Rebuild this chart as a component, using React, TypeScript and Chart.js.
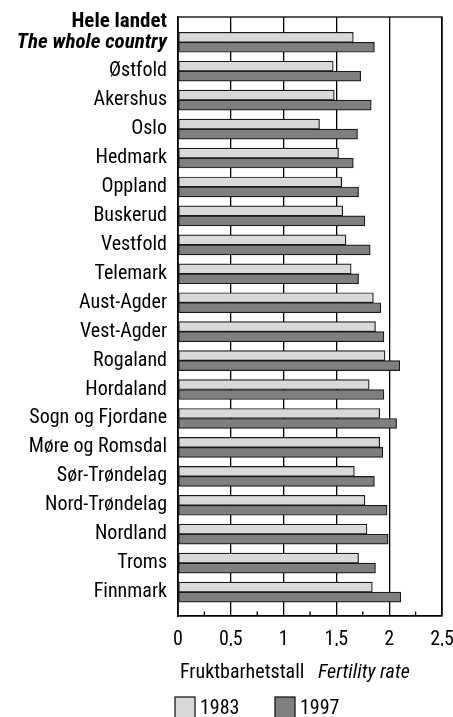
import React, { useEffect, useRef } from "react";
import { Chart, registerables } from "chart.js";

Chart.register(...registerables);

const headline = "Hele landet";
const regions = [
  "The whole country",
  "Østfold",
  "Akershus",
  "Oslo",
  "Hedmark",
  "Oppland",
  "Buskerud",
  "Vestfold",
  "Telemark",
  "Aust-Agder",
  "Vest-Agder",
  "Rogaland",
  "Hordaland",
  "Sogn og Fjordane",
  "Møre og Romsdal",
  "Sør-Trøndelag",
  "Nord-Trøndelag",
  "Nordland",
  "Troms",
  "Finnmark",
];
const values1983 = [1.66, 1.47, 1.48, 1.34, 1.52, 1.55, 1.56, 1.59, 1.64, 1.85, 1.87, 1.96, 1.81, 1.91, 1.91, 1.67, 1.77, 1.79, 1.71, 1.84];
const values1997 = [1.86, 1.73, 1.83, 1.70, 1.66, 1.71, 1.77, 1.82, 1.71, 1.92, 1.95, 2.10, 1.95, 2.07, 1.94, 1.86, 1.98, 1.99, 1.87, 2.11];
const seriesLabels = ["1983", "1997"];
const xTickValues = [0, 0.5, 1, 1.5, 2, 2.5];
const xTickLabels = ["0", "0,5", "1", "1,5", "2", "2,5"];
const minorTickValues = [0.25, 0.75, 1.25, 1.75, 2.25];
const axisTitleNo = "Fruktbarhetstall";
const axisTitleEn = "Fertility rate";

const FONT = "'Roboto Condensed', 'Liberation Sans', Arial, sans-serif";
const FSIZE = 20;
const FILL_1983 = "#d9d9d9";
const FILL_1997 = "#7f7f7f";
const EDGE = "#1a1a1a";

const decorPlugin = {
  id: "decor",
  afterDraw(chart: any) {
    const { ctx, chartArea, scales } = chart;
    const xs = scales.x;
    const ys = scales.y;
    ctx.save();
    // frame
    ctx.strokeStyle = "#000";
    ctx.lineWidth = 1.3;
    ctx.strokeRect(chartArea.left, chartArea.top, chartArea.right - chartArea.left, chartArea.bottom - chartArea.top);
    // minor ticks
    minorTickValues.forEach((v) => {
      const px = xs.getPixelForValue(v);
      ctx.beginPath();
      ctx.moveTo(px, chartArea.bottom);
      ctx.lineTo(px, chartArea.bottom - 4.5);
      ctx.stroke();
    });
    // headline above first category label
    ctx.fillStyle = "#000";
    ctx.textAlign = "right";
    ctx.textBaseline = "middle";
    ctx.font = `bold 21px ${FONT}`;
    ctx.fillText(headline, chartArea.left - 11, ys.getPixelForValue(0) - 21);
    // axis title
    ctx.textAlign = "left";
    ctx.font = `${FSIZE}px ${FONT}`;
    const ty = 673;
    ctx.fillText(axisTitleNo, 180, ty);
    ctx.font = `italic ${FSIZE}px ${FONT}`;
    ctx.fillText(axisTitleEn, 318, ty);
    // legend
    const ds = chart.data.datasets;
    const legendX = [175, 275];
    ds.forEach((d: any, i: number) => {
      const bx = legendX[i];
      ctx.fillStyle = d.backgroundColor;
      ctx.fillRect(bx, 697, 20, 24);
      ctx.strokeStyle = EDGE;
      ctx.lineWidth = 1.3;
      ctx.strokeRect(bx, 697, 20, 24);
      ctx.fillStyle = "#000";
      ctx.font = `${FSIZE}px ${FONT}`;
      ctx.textAlign = "left";
      ctx.fillText(d.label, bx + 25, 708.5);
    });
    ctx.restore();
  },
};

export default function App() {
  const canvasRef = useRef<HTMLCanvasElement | null>(null);

  useEffect(() => {
    if (!canvasRef.current) return;
    const chart = new Chart(canvasRef.current, {
      type: "bar",
      data: {
        labels: regions,
        datasets: [
          {
            label: seriesLabels[0],
            data: values1983,
            backgroundColor: FILL_1983,
            borderColor: EDGE,
            borderWidth: 1.2,
            borderSkipped: false,
            barThickness: 10,
          },
          {
            label: seriesLabels[1],
            data: values1997,
            backgroundColor: FILL_1997,
            borderColor: EDGE,
            borderWidth: 1.2,
            borderSkipped: false,
            barThickness: 10,
          },
        ],
      },
      options: {
        indexAxis: "y",
        responsive: false,
        animation: false,
        layout: { padding: { top: 17, right: 11, bottom: 71, left: 0 } },
        plugins: {
          legend: { display: false },
          tooltip: { enabled: false },
        },
        scales: {
          x: {
            type: "linear",
            min: 0,
            max: 2.5,
            afterBuildTicks: (s: any) => {
              s.ticks = xTickValues.map((v) => ({ value: v }));
            },
            afterFit: (s: any) => {
              s.height = 30;
              s.paddingLeft = 0;
              s.paddingRight = 0;
            },
            ticks: {
              color: "#000",
              padding: 12,
              font: { family: FONT, size: FSIZE },
              callback: (_v: any, i: number) => xTickLabels[i],
            },
            grid: { color: "#000", lineWidth: 1.3, drawTicks: false },
            border: { color: "#000", width: 1.3 },
          },
          y: {
            type: "category",
            afterBuildTicks: (s: any) => {
              s._startValue = -0.874;
              s._valueRange = 20.7;
            },
            afterFit: (s: any) => {
              s.width = 178;
              s.paddingTop = 0;
              s.paddingBottom = 0;
            },
            ticks: {
              color: "#000",
              padding: 11,
              font: (c: any) =>
                c.index === 0
                  ? { family: FONT, size: 21, weight: "bold", style: "italic" }
                  : { family: FONT, size: FSIZE },
            },
            grid: { display: false, drawTicks: false },
            border: { color: "#000", width: 1.3 },
          },
        },
      },
      plugins: [decorPlugin],
    } as any);
    return () => chart.destroy();
  }, []);

  return (
    <div
      style={{
        position: "fixed",
        left: 0,
        top: 0,
        width: 453,
        height: 717,
        overflow: "hidden",
        background: "#fff",
      }}
    >
      <canvas ref={canvasRef} width={453} height={717} style={{ display: "block" }} />
    </div>
  );
}
